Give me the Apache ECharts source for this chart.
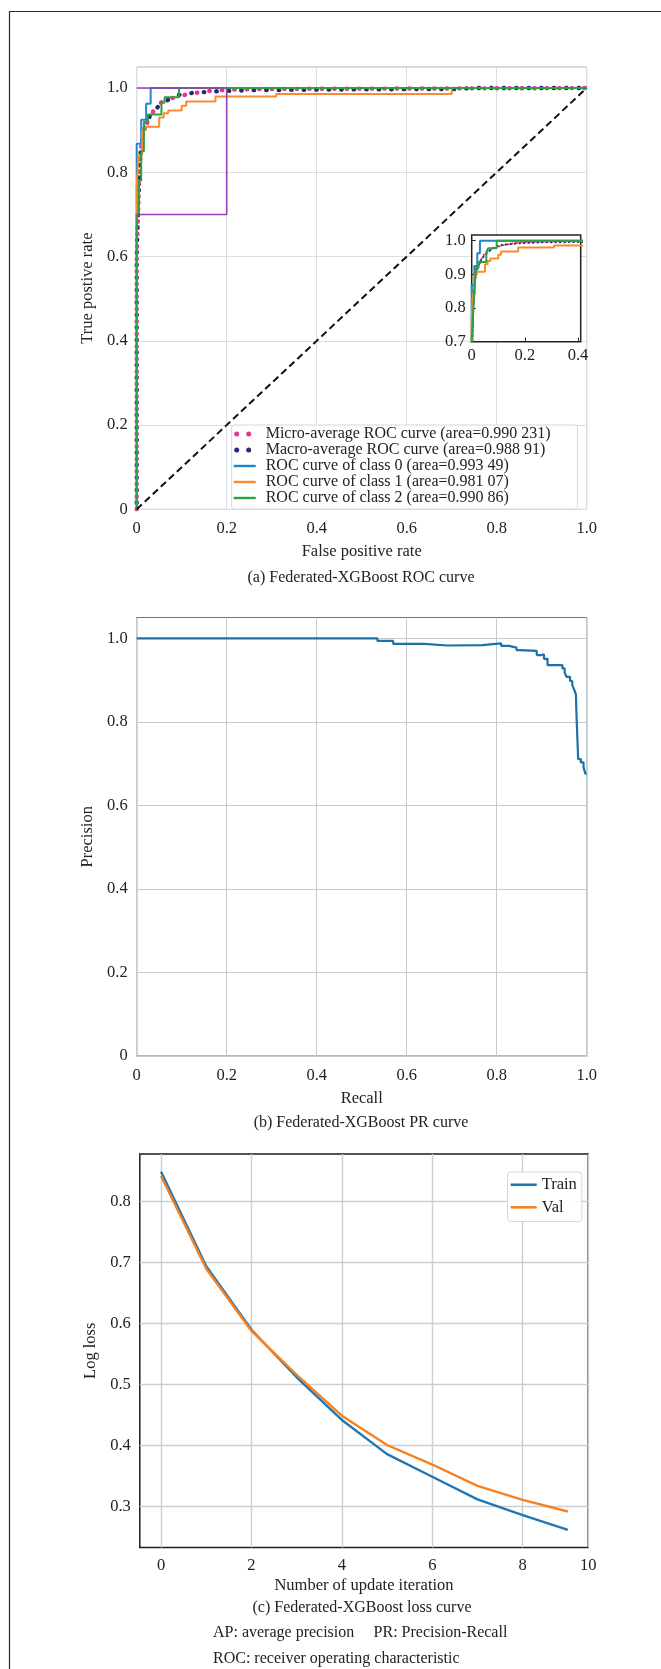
<!DOCTYPE html>
<html>
<head>
<meta charset="utf-8">
<script src="https://cdn.jsdelivr.net/npm/echarts@6/dist/echarts.min.js"></script>
<style>
html,body{margin:0;padding:0;background:#fff;}
#chart{width:661px;height:1669px;}
</style>
</head>
<body>
<div id="chart"></div>
<script>
// ---------------- DATA ----------------
// (a) ROC curves: [false positive rate, true positive rate]
const rocMicro = [[0,0],[0,0.6],[0.003,0.7],[0.006,0.8],[0.01,0.86],[0.015,0.9],[0.022,0.915],[0.03,0.93],[0.04,0.952],[0.05,0.963],[0.065,0.972],[0.085,0.978],[0.115,0.986],[0.16,0.993],[0.2,0.996],[0.3,0.998],[1,1]];
const rocMacro = [[0,0],[0,0.6],[0.004,0.74],[0.008,0.84],[0.014,0.89],[0.022,0.92],[0.03,0.935],[0.038,0.947],[0.05,0.958],[0.07,0.972],[0.09,0.983],[0.12,0.988],[0.17,0.992],[0.25,0.995],[0.5,0.997],[0.72,0.998],[0.74,1],[1,1]];
const rocClass0 = [[0,0],[0,0.868],[0.01,0.868],[0.01,0.925],[0.021,0.925],[0.021,0.963],[0.031,0.963],[0.031,1],[1,1]];
const rocClass1 = [[0,0],[0,0.77],[0.004,0.77],[0.004,0.84],[0.012,0.84],[0.012,0.9],[0.02,0.9],[0.02,0.908],[0.05,0.908],[0.05,0.93],[0.06,0.93],[0.06,0.94],[0.07,0.94],[0.07,0.947],[0.1,0.947],[0.1,0.958],[0.11,0.958],[0.11,0.968],[0.175,0.968],[0.175,0.98],[0.31,0.98],[0.31,0.986],[0.7,0.986],[0.7,1],[1,1]];
const rocClass2 = [[0,0],[0,0.7],[0.005,0.7],[0.005,0.78],[0.01,0.78],[0.01,0.85],[0.016,0.85],[0.016,0.92],[0.025,0.92],[0.025,0.937],[0.055,0.937],[0.055,0.965],[0.062,0.965],[0.062,0.978],[0.094,0.978],[0.094,1],[1,1]];
const chanceLine = [[0,0],[1,1]];
const zoomBox = [[0,1],[0.2,1],[0.2,0.7],[0,0.7]];
const rocNames = ['Micro-average ROC curve (area=0.990 231)','Macro-average ROC curve (area=0.988 91)','ROC curve of class 0 (area=0.993 49)','ROC curve of class 1 (area=0.981 07)','ROC curve of class 2 (area=0.990 86)'];
const unitTicks = [0,0.2,0.4,0.6,0.8,1.0];
const insetXTicks = [0,0.2,0.4];
const insetYTicks = [0.7,0.8,0.9,1.0];

// (b) PR curve: [recall where level starts, precision]
const prLevels = [[0,1.0],[0.535,0.994],[0.57,0.987],[0.64,0.983],[0.69,0.984],[0.768,0.988],[0.81,0.982],[0.827,0.978],[0.844,0.972],[0.852,0.97],[0.889,0.96],[0.9,0.962],[0.905,0.951],[0.913,0.936],[0.946,0.928],[0.951,0.918],[0.955,0.908],[0.963,0.898],[0.968,0.888],[0.972,0.878],[0.976,0.866],[0.977,0.826],[0.981,0.711],[0.987,0.703],[0.993,0.691],[0.997,0.676],[1.0,0.676]];

// (c) loss curve
const lossIter = [0,1,2,3,4,5,6,7,8,9];
const lossTrain = [0.849,0.694,0.590,0.512,0.442,0.386,0.349,0.312,0.286,0.262];
const lossVal = [0.842,0.690,0.588,0.516,0.449,0.401,0.369,0.334,0.311,0.292];
const lossXTicks = [0,2,4,6,8];
const lossXEndLabel = '10';
const lossYTicks = [0.3,0.4,0.5,0.6,0.7,0.8];

// ---------------- CHART ----------------
const FONT = "'Liberation Serif','Times New Roman',serif";
const TXT = '#222';
const FS = 16.5;
const C = {micro:'#e8338c', macro:'#252a78', c0:'#1f87c9', c1:'#fb8a2c', c2:'#2ca043', purple:'#9b3cb0', pr:'#1a72a6', train:'#1f77b4', val:'#f7801f'};

const fmt1 = v => (Math.abs(v) < 1e-9 ? '0' : v.toFixed(1));
const pairs = (xs, ys) => xs.map((x, i) => [x, ys[i]]);

function mainX(grid, ticks, name, gridColor){
  return {type:'value', gridIndex:grid, min:0, max:1,
    axisLine:{show:false}, axisTick:{show:false, customValues:ticks},
    axisLabel:{customValues:ticks, formatter:fmt1, fontSize:FS, fontFamily:FONT, color:TXT, margin:11},
    splitLine:{show:true, lineStyle:{color:gridColor, width:1}},
    name:name, nameLocation:'middle', nameGap:34, nameTextStyle:{fontSize:FS, fontFamily:FONT, color:TXT}};
}
function mainY(grid, ticks, name, gridColor){
  return {type:'value', gridIndex:grid, min:0, max:1.05,
    axisLine:{show:false}, axisTick:{show:false, customValues:ticks},
    axisLabel:{customValues:ticks, formatter:fmt1, fontSize:FS, fontFamily:FONT, color:TXT, margin:9},
    splitLine:{show:true, lineStyle:{color:gridColor, width:1}},
    name:name, nameLocation:'middle', nameGap:35, nameTextStyle:{fontSize:FS, fontFamily:FONT, color:TXT}};
}

const dotsIcon = 'path://M0,0 M27,8 M0.5,4 a2.5,2.5 0 1,0 5,0 a2.5,2.5 0 1,0 -5,0 Z M12.5,4 a2.5,2.5 0 1,0 5,0 a2.5,2.5 0 1,0 -5,0 Z';
const lineIcon = 'path://M0,0 M27,8 M0,2.8 L22,2.8 L22,5.2 L0,5.2 Z';
const lossIcon = 'path://M0,0 M26,8 M0,2.7 L26,2.7 L26,5.3 L0,5.3 Z';

function rocSeries(xi, yi, inset){
  const z = inset ? 4 : 2;
  const dotW = inset ? 2 : 4.4;
  const dotT = inset ? [0.5, 4] : [0.5, 12];
  return [
    {name:rocNames[0], type:'line', xAxisIndex:xi, yAxisIndex:yi, data:rocMicro, symbol:'none', z:z, clip:true,
      itemStyle:{color:C.micro}, lineStyle:{color:C.micro, width:dotW, type:dotT, cap:'round'}},
    {name:rocNames[1], type:'line', xAxisIndex:xi, yAxisIndex:yi, data:rocMacro, symbol:'none', z:z, clip:true,
      itemStyle:{color:C.macro}, lineStyle:{color:C.macro, width:dotW, type:dotT, cap:'round', dashOffset: inset?2:6}},
    {name:rocNames[2], type:'line', xAxisIndex:xi, yAxisIndex:yi, data:rocClass0, symbol:'none', z:z, clip:true,
      itemStyle:{color:C.c0}, lineStyle:{color:C.c0, width:2}},
    {name:rocNames[3], type:'line', xAxisIndex:xi, yAxisIndex:yi, data:rocClass1, symbol:'none', z:z, clip:true,
      itemStyle:{color:C.c1}, lineStyle:{color:C.c1, width:2}},
    {name:rocNames[4], type:'line', xAxisIndex:xi, yAxisIndex:yi, data:rocClass2, symbol:'none', z:z, clip:true,
      itemStyle:{color:C.c2}, lineStyle:{color:C.c2, width:2}}
  ];
}

function txt(text, x, y, align){
  return {type:'text', x:x, y:y, silent:true, z:50,
    style:{text:text, fontSize:16, fontFamily:FONT, fill:TXT, align:align||'center', verticalAlign:'middle'}};
}

const option = {
  animation:false,
  backgroundColor:'#fff',
  textStyle:{fontFamily:FONT},
  grid:[
    {left:136.7, top:67, width:450, height:442.3, show:true, borderColor:'#aab4bd', borderWidth:1, backgroundColor:'transparent', containLabel:false},
    {left:471.7, top:235, width:109, height:106.7, show:true, borderColor:'#222', borderWidth:1.5, backgroundColor:'#fff', z:1},
    {left:136.7, top:617.5, width:450, height:438.5, show:true, borderColor:'#6b7780', borderWidth:1.2, backgroundColor:'transparent'},
    {left:139.8, top:1154, width:448.4, height:393.5, show:true, borderColor:'#1e1e1e', borderWidth:1.5, backgroundColor:'transparent'}
  ],
  xAxis:[
    mainX(0, unitTicks, 'False positive rate', '#d8dee3'),
    {type:'value', gridIndex:1, min:0, max:0.41, z:3,
      axisLine:{show:false}, axisTick:{show:true, inside:true, length:4, customValues:insetXTicks, lineStyle:{color:'#222'}},
      axisLabel:{customValues:insetXTicks, formatter:fmt1, fontSize:FS, fontFamily:FONT, color:TXT, margin:5},
      splitLine:{show:false}},
    mainX(2, unitTicks, 'Recall', '#c3cbd2'),
    {type:'value', gridIndex:3, min:-0.47, max:9.45,
      axisLine:{show:false}, axisTick:{show:false, customValues:lossXTicks.concat([9.45])},
      axisLabel:{customValues:lossXTicks.concat([9.45]), formatter:v => (v > 9 ? lossXEndLabel : String(Math.round(v))), fontSize:FS, fontFamily:FONT, color:TXT, margin:10},
      splitLine:{show:true, lineStyle:{color:'#c9cfd4', width:1.4}},
      name:'Number of update iteration', nameLocation:'middle', nameGap:30, nameTextStyle:{fontSize:FS, fontFamily:FONT, color:TXT}}
  ],
  yAxis:[
    mainY(0, unitTicks, 'True postive rate', '#d8dee3'),
    {type:'value', gridIndex:1, min:0.7, max:1.017, z:3,
      axisLine:{show:false}, axisTick:{show:true, inside:true, length:4, customValues:insetYTicks, lineStyle:{color:'#222'}},
      axisLabel:{customValues:insetYTicks, formatter:fmt1, fontSize:FS, fontFamily:FONT, color:TXT, margin:6},
      splitLine:{show:false}},
    mainY(2, unitTicks, 'Precision', '#c3cbd2'),
    {type:'value', gridIndex:3, min:0.233, max:0.878,
      axisLine:{show:false}, axisTick:{show:false, customValues:lossYTicks},
      axisLabel:{customValues:lossYTicks, formatter:fmt1, fontSize:FS, fontFamily:FONT, color:TXT, margin:9},
      splitLine:{show:true, lineStyle:{color:'#c9cfd4', width:1.4}},
      name:'Log loss', nameLocation:'middle', nameGap:39, nameTextStyle:{fontSize:FS, fontFamily:FONT, color:TXT}}
  ],
  legend:[
    {orient:'vertical', left:231.7, top:425, itemWidth:27, itemHeight:8, itemGap:0, symbolKeepAspect:true,
      selectedMode:false, padding:[1,27,3,2], backgroundColor:'rgba(255,255,255,0.92)', borderColor:'#d3d8dc', borderWidth:1, borderRadius:3,
      textStyle:{fontSize:16, fontFamily:FONT, color:TXT, lineHeight:15.3},
      itemStyle:{borderWidth:0}, lineStyle:{width:0}, z:6,
      data:[
        {name:rocNames[0], icon:dotsIcon},
        {name:rocNames[1], icon:dotsIcon},
        {name:rocNames[2], icon:lineIcon},
        {name:rocNames[3], icon:lineIcon},
        {name:rocNames[4], icon:lineIcon}
      ]},
    {orient:'vertical', left:507.5, top:1172, itemWidth:26, itemHeight:8, itemGap:0, symbolKeepAspect:true,
      selectedMode:false, padding:[1.5,5,3,3.2], backgroundColor:'rgba(255,255,255,0.92)', borderColor:'#d3d8dc', borderWidth:1, borderRadius:3,
      textStyle:{fontSize:16.5, fontFamily:FONT, color:TXT, lineHeight:22.5},
      itemStyle:{borderWidth:0}, lineStyle:{width:0}, z:6,
      data:[{name:'Train', icon:lossIcon},{name:'Val', icon:lossIcon}]}
  ],
  series: [].concat(
    rocSeries(0, 0, false),
    [
      {name:'chance', type:'line', xAxisIndex:0, yAxisIndex:0, data:chanceLine, symbol:'none', z:3,
        lineStyle:{color:'#111', width:2, type:[7,4]}},
      {name:'zoom region', type:'line', xAxisIndex:0, yAxisIndex:0, data:zoomBox, symbol:'none', z:3,
        lineStyle:{color:C.purple, width:1.6}}
    ],
    rocSeries(1, 1, true),
    [
      {name:'PR', type:'line', xAxisIndex:2, yAxisIndex:2, data:prLevels, step:'end', symbol:'none',
        lineStyle:{color:C.pr, width:2.2}, itemStyle:{color:C.pr}},
      {name:'Train', type:'line', xAxisIndex:3, yAxisIndex:3, data:pairs(lossIter, lossTrain), symbol:'none',
        lineStyle:{color:C.train, width:2.4}, itemStyle:{color:C.train}},
      {name:'Val', type:'line', xAxisIndex:3, yAxisIndex:3, data:pairs(lossIter, lossVal), symbol:'none',
        lineStyle:{color:C.val, width:2.4}, itemStyle:{color:C.val}}
    ]
  ),
  graphic:[
    {type:'rect', silent:true, z:60, shape:{x:9.5, y:11.5, width:700, height:1700},
      style:{fill:'none', stroke:'#2b2b2b', lineWidth:1.2}},
    txt('(a) Federated-XGBoost ROC curve', 361, 577.5),
    txt('(b) Federated-XGBoost PR curve', 361, 1123),
    txt('(c) Federated-XGBoost loss curve', 362, 1608),
    txt('AP: average precision', 213, 1633, 'left'),
    txt('PR: Precision-Recall', 373.6, 1633, 'left'),
    txt('ROC: receiver operating characteristic', 213, 1659, 'left')
  ]
};

const chart = echarts.init(document.getElementById('chart'), null, {renderer:'canvas', width:661, height:1669});
chart.setOption(option);
</script>
</body>
</html>
